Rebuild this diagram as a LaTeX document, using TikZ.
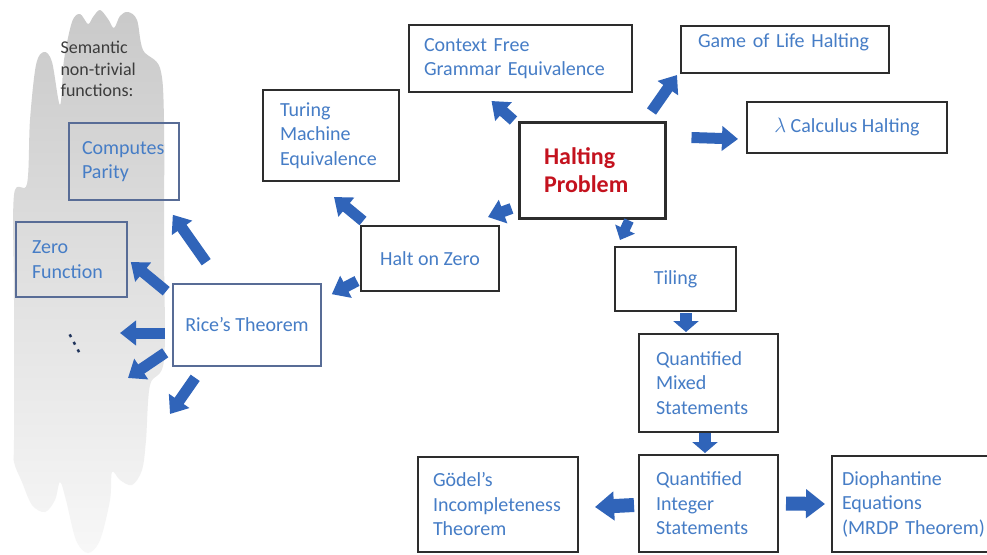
\documentclass[tikz,border=0pt]{standalone}
\usepackage{fontspec}
\setmainfont{Carlito}
\newfontfamily\dejavu{DejaVu Sans}
\usetikzlibrary{arrows.meta}
\definecolor{txtblue}{RGB}{70,125,198}
\definecolor{arrblue}{RGB}{48,100,185}
\definecolor{hred}{RGB}{196,18,30}
\definecolor{lboxc}{RGB}{88,108,150}
\definecolor{semgray}{RGB}{60,60,60}
\definecolor{dotnavy}{RGB}{30,50,90}
\definecolor{boxline}{RGB}{45,45,45}
\begin{document}
\begin{tikzpicture}[x=1pt,y=-1pt,
  box/.style={draw=boxline, line width=2pt, rectangle, inner ysep=0pt, align=left,
    text=txtblue, font=\fontsize{20}{24.5}\selectfont},
  lbox/.style={box, draw=lboxc, line width=1.6pt},
  barrow/.style={draw=arrblue, line width=11pt, -{Triangle[width=24pt,length=16pt]}},
  sarrow/.style={draw=arrblue, line width=10pt, -{Triangle[width=21pt,length=12pt]}},
  varrow/.style={draw=arrblue, line width=12pt, -{Triangle[width=25pt,length=11pt]}},
  warrow/.style={draw=arrblue, line width=14pt, -{Triangle[width=28pt,length=19pt]}}]
\useasboundingbox (0,0) rectangle (987,554);
\fill[white] (0,0) rectangle (987,554);

% grey blob
\shade[top color=gray!42, middle color=gray!18, bottom color=gray!6]
  plot[smooth cycle, tension=0.55] coordinates {
  (14,440) (14,300) (14,195) (27,184) (30,120) (36,65) (44,52) (52,62) (60,105)
  (64,60) (72,22) (80,14) (88,24) (93,17) (100,10) (108,19) (114,28) (120,16)
  (128,12) (137,20) (143,50) (160,68) (164,120) (164,250) (164,360) (150,385)
  (146,440) (142,470) (132,485) (120,480) (112,472) (110,500) (100,540) (88,553)
  (76,540) (66,500) (60,482) (55,500) (45,512) (32,505) (22,482) (14,462)};

\node[anchor=west, align=left, text=semgray, font=\fontsize{18}{21.5}\selectfont]
  (sem) at (57,69) {Semantic\\non-trivial\\functions:};

% boxes
\node[box, text width=193pt, inner xsep=15pt, minimum height=67pt] (cfg) at (520.5,58.5)
  {Context Free\\Grammar Equivalence};
\node[box, text width=102pt, inner xsep=17pt, minimum height=91pt] (tme) at (331,135.5)
  {Turing\\Machine\\Equivalence};
\node[box, line width=3pt, text=hred, font=\bfseries\fontsize{24}{28}\selectfont,
  text width=96pt, inner xsep=25pt, minimum height=96pt] (halt) at (592,170)
  {Halting\\Problem};
\node[box, align=center, minimum width=138pt, minimum height=65pt] (hoz) at (430,258.5)
  {Halt on Zero};
\node[box, text width=174pt, inner xsep=17pt, minimum height=47pt, text depth=18pt] (gol)
  at (785,49.5) {Game of Life Halting};
\node[box, align=center, minimum width=200pt, minimum height=51pt] (lam) at (847,127.5)
  {\(\lambda\) Calculus Halting};
\node[box, align=center, minimum width=121pt, minimum height=64pt] (til) at (675.5,279)
  {Tiling};
\node[box, text width=105pt, inner xsep=17pt, minimum height=98pt] (qm) at (708.5,383)
  {Quantified\\Mixed\\Statements};
\node[box, text width=105pt, inner xsep=17pt, minimum height=97pt] (qi) at (708.5,503.5)
  {Quantified\\Integer\\Statements};
\node[box, text width=130pt, inner xsep=15pt, minimum height=95pt] (god) at (498,504.5)
  {Gödel’s\\Incompleteness\\Theorem};
\node[box, text width=152pt, inner xsep=10pt, minimum height=96pt] (dio) at (918,504)
  {Diophantine\\Equations\\(MRDP Theorem)};
\node[lbox, text width=84pt, inner xsep=13pt, minimum height=77pt] (cp) at (124,161.5)
  {Computes\\Parity};
\node[lbox, text width=79pt, inner xsep=16pt, minimum height=75pt] (zf) at (71.5,259.5)
  {Zero\\Function};
\node[lbox, align=center, minimum width=148pt, minimum height=82pt] (rice) at (247,325)
  {Rice’s Theorem};

\node[text=dotnavy, font=\dejavu\fontsize{25}{25}\selectfont, rotate=28, inner sep=0pt]
  (dots) at (75,344) {⋮};

\coordinate (f1) at (128,378);
\coordinate (f2) at (170,414);

% arrows
\draw[barrow] ([xshift=-4pt]halt.north west) -- ([xshift=-29pt,yshift=-8pt]cfg.south);
\draw[barrow] ([xshift=-15pt,yshift=9pt]halt.north east) -- ([xshift=-3pt,yshift=-1pt]gol.south west);
\draw[barrow] ([xshift=25pt,yshift=-17pt]halt.north east) -- ([xshift=-8pt,yshift=-11.5pt]lam.west);
\draw[barrow] ([xshift=-6pt,yshift=11pt]halt.south west) -- ([xshift=-12pt,yshift=8pt]hoz.north east);
\draw[sarrow] ([xshift=37pt,yshift=-1pt]halt.south) -- ([xshift=6pt,yshift=6pt]til.north west);
\draw[barrow] ([xshift=3pt,yshift=4pt]hoz.north west) -- ([xshift=3pt,yshift=-15pt]tme.south);
\draw[barrow] ([xshift=-3pt,yshift=11pt]hoz.south west) -- ([xshift=10pt,yshift=-11pt]rice.north east);
\draw[barrow] ([xshift=34pt,yshift=21pt]rice.north west) -- ([xshift=-7pt,yshift=-14pt]cp.south east);
\draw[barrow] ([xshift=-6pt,yshift=-8pt]rice.north west) -- ([xshift=3pt,yshift=-2.5pt]zf.east);
\draw[barrow] ([xshift=-7pt,yshift=-8pt]rice.west) -- ([xshift=45pt,yshift=11pt]dots.center);
\draw[barrow] ([xshift=-7pt,yshift=14pt]rice.south west) -- (f1);
\draw[barrow] ([xshift=23pt,yshift=-11pt]rice.south west) -- (f2);
\draw[varrow] ([xshift=10.5pt,yshift=-1pt]til.south) -- ([xshift=-22.5pt,yshift=1pt]qm.north);
\draw[varrow] ([xshift=-3.5pt]qm.south) -- ([xshift=-3.5pt,yshift=1pt]qi.north);
\draw[warrow] ([xshift=-4pt,yshift=-1.5pt]qi.west) -- ([xshift=16pt,yshift=-2.5pt]god.east);
\draw[warrow] ([xshift=7pt]qi.east) -- ([xshift=-6pt]dio.west);
\end{tikzpicture}
\end{document}
